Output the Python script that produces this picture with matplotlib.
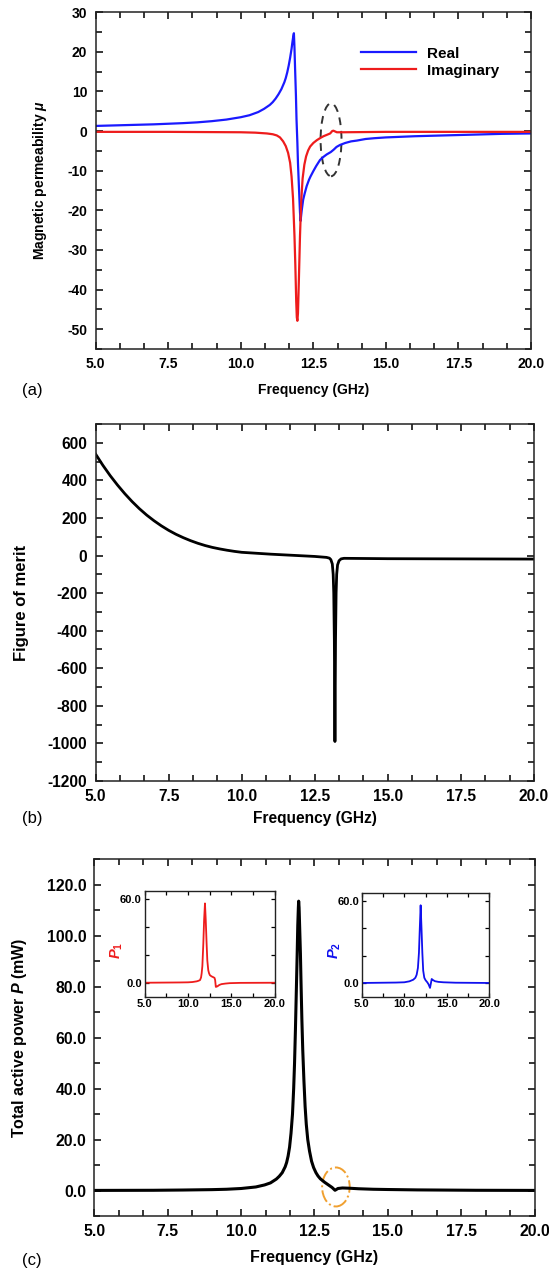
import numpy as np
import matplotlib
matplotlib.use("Agg")
import matplotlib.pyplot as plt
from matplotlib.ticker import MultipleLocator, AutoMinorLocator, FormatStrFormatter
from matplotlib.patches import Ellipse

plt.rcParams['font.family'] = ['Liberation Sans', 'DejaVu Sans']
plt.rcParams['font.weight'] = 'bold'
plt.rcParams['mathtext.fontset'] = 'custom'
plt.rcParams['mathtext.rm'] = 'Liberation Sans:bold'
plt.rcParams['mathtext.it'] = 'Liberation Sans:italic:bold'
plt.rcParams['mathtext.bf'] = 'Liberation Sans:bold'

# (a) permeabilidad magnetica
f_real = [5.0, 6.0, 7.0, 8.0, 8.5, 9.0, 9.5, 10.0, 10.3, 10.6, 10.8, 11.0, 11.1, 11.2,
          11.3, 11.4, 11.5, 11.55, 11.6, 11.65, 11.7, 11.75, 11.78, 11.81, 11.83, 11.85,
          11.87, 11.9, 11.92, 11.95, 11.97, 12.0, 12.02, 12.04, 12.06, 12.08, 12.1, 12.15,
          12.2, 12.27, 12.35, 12.4, 12.5, 12.6, 12.73, 12.85, 12.96, 13.1, 13.2, 13.3,
          13.42, 13.6, 13.8, 14.0, 14.3, 14.6, 15.0, 16.0, 17.5, 19.0, 20.0]
mu_real = [1.3, 1.5, 1.7, 2.0, 2.2, 2.5, 2.9, 3.5, 4.0, 4.8, 5.6, 6.6, 7.3, 8.2,
           9.3, 10.6, 12.3, 13.4, 14.8, 16.5, 18.5, 20.8, 22.5, 24.0, 24.7, 21.0,
           16.0, 9.0, 3.0, -3.0, -8.0, -13.5, -17.0, -20.5, -22.7, -21.3, -20.0, -17.3,
           -15.8, -13.9, -12.3, -11.5, -10.1, -8.8, -7.3, -6.5, -5.9, -5.3, -4.7, -4.0,
           -3.5, -3.0, -2.6, -2.4, -2.0, -1.8, -1.6, -1.3, -1.0, -0.7, -0.6]
f_imag = [5.0, 7.5, 10.0, 10.5, 10.9, 11.1, 11.24, 11.35, 11.46, 11.55, 11.63, 11.7,
          11.75, 11.8, 11.85, 11.88, 11.91, 11.93, 11.95, 11.97, 12.0, 12.04, 12.08,
          12.13, 12.19, 12.25, 12.32, 12.39, 12.5, 12.62, 12.75, 12.85, 12.95, 13.08,
          13.15, 13.19, 13.25, 13.31, 13.54, 15.0, 17.5, 20.0]
mu_imag = [-0.2, -0.2, -0.3, -0.4, -0.6, -0.8, -1.1, -1.6, -2.6, -3.8, -5.5, -8.0,
           -11.5, -17.0, -26.5, -34.0, -43.0, -47.0, -47.9, -46.0, -38.0, -26.5, -18.0,
           -12.0, -8.5, -6.4, -4.9, -3.9, -3.0, -2.3, -1.7, -1.3, -1.0, -0.6,
           0.0, 0.1, -0.1, -0.3, -0.3, -0.2, -0.2, -0.2]

# (b) figura de merito
f_fom = [5.0, 5.25, 5.5, 5.75, 6.0, 6.25, 6.5, 6.75, 7.0, 7.25, 7.5, 7.75, 8.0, 8.25,
         8.5, 8.75, 9.0, 9.25, 9.5, 9.75, 10.0, 10.5, 11.0, 11.5, 12.0, 12.5, 12.9,
         13.0, 13.05, 13.1, 13.13, 13.15, 13.17, 13.19, 13.21, 13.23, 13.25, 13.28,
         13.33, 13.4, 13.5, 15.0, 17.5, 20.0]
fom = [540, 480, 425, 375, 329, 287, 249, 215, 185, 158, 134, 113, 95, 79,
       65, 53, 43, 35, 28, 22, 17, 12, 7, 3, -1, -5, -10,
       -14, -22, -45, -100, -200, -450, -990, -450, -200, -100, -50,
       -28, -18, -15, -17, -18, -19]

# (c) potencia activa total y potencias de cada puerto
f_p = [5.0, 7.0, 8.0, 9.0, 9.5, 10.0, 10.5, 10.8, 11.0, 11.2, 11.3, 11.4, 11.5, 11.55,
       11.6, 11.65, 11.7, 11.75, 11.79, 11.82, 11.85, 11.88, 11.91, 11.93, 11.95, 11.96,
       11.975, 11.99, 12.02, 12.04, 12.07, 12.1, 12.14, 12.18, 12.22, 12.27, 12.33, 12.4,
       12.47, 12.55, 12.62, 12.7, 12.85, 13.0, 13.1, 13.2, 13.3, 13.45, 13.7, 14.0, 14.5,
       15.0, 16.0, 18.0, 20.0]
p_total = [0.05, 0.1, 0.2, 0.35, 0.5, 0.8, 1.4, 2.2, 3.0, 4.5, 5.6, 7.0, 9.3, 11.0,
           13.5, 17.0, 22.5, 30.0, 40.0, 50.0, 63.0, 78.0, 93.0, 104.0, 111.0, 113.5,
           111.0, 105.0, 93.0, 82.0, 67.0, 55.0, 43.0, 33.0, 26.0, 20.0, 15.5, 11.5,
           9.0, 7.0, 5.7, 4.6, 3.2, 2.0, 1.2, 0.1, 0.8, 1.0, 0.9, 0.7, 0.5,
           0.4, 0.25, 0.1, 0.05]
f_p1 = [5.0, 9.0, 10.0, 10.5, 11.0, 11.2, 11.38, 11.5, 11.57, 11.65, 11.76, 11.85, 11.95,
        12.04, 12.14, 12.22, 12.33, 12.42, 12.52, 12.7, 12.9, 13.05, 13.12, 13.2, 13.3,
        13.4, 13.6, 13.85, 14.3, 14.8, 16.0, 20.0]
p1 = [0.0, 0.2, 0.3, 0.5, 1.0, 1.4, 1.9, 3.8, 6.8, 12.0, 28.0, 45.0, 57.0,
      45.0, 28.0, 16.0, 9.0, 6.8, 5.4, 4.6, 4.0, 3.5, 2.0, -3.0, -2.8,
      -2.5, -1.6, -1.0, -0.6, -0.3, -0.1, 0.0]
f_p2 = [5.0, 9.0, 10.0, 10.6, 11.06, 11.3, 11.45, 11.6, 11.72, 11.82, 11.92, 12.02, 12.12,
        12.22, 12.35, 12.5, 12.7, 12.85, 13.02, 13.1, 13.22, 13.35, 13.6, 14.0, 14.6,
        16.0, 20.0]
p2 = [0.0, 0.3, 0.5, 1.2, 2.4, 3.8, 6.0, 11.0, 22.0, 40.0, 56.8, 40.0, 22.0,
      9.0, 3.8, 2.0, 0.5, -1.0, -3.6, -1.0, 2.9, 2.2, 1.3, 0.8, 0.5,
      0.2, 0.0]


def estilo(ax, ymaj, ymin, fmt_y, size):
    ax.set_xlim(5, 20)
    ax.xaxis.set_major_locator(MultipleLocator(2.5))
    ax.xaxis.set_minor_locator(AutoMinorLocator(3))
    ax.xaxis.set_major_formatter(FormatStrFormatter('%.1f'))
    ax.yaxis.set_major_locator(MultipleLocator(ymaj))
    ax.yaxis.set_minor_locator(MultipleLocator(ymin))
    ax.yaxis.set_major_formatter(FormatStrFormatter(fmt_y))
    ax.tick_params(which='both', direction='in', top=True, right=True, width=1.1,
                   labelsize=size, pad=6)
    ax.tick_params(which='major', length=5)
    ax.tick_params(which='minor', length=4)
    for s in ax.spines.values():
        s.set_linewidth(1.1)
        s.set_color('#222222')


fig = plt.figure(figsize=(5.49, 12.74), dpi=100)

# ---- (a)
ax1 = fig.add_axes([0.1743, 0.7261, 0.7929, 0.2643])
ax1.plot(f_real, mu_real, color='#1a1aff', lw=1.6, label='Real')
ax1.plot(f_imag, mu_imag, color='#ee1c1c', lw=1.6, label='Imaginary')
ax1.add_patch(Ellipse((13.11, -2.2), 0.72, 18.4, fill=False, ls=(0, (4, 3)),
                      lw=1.4, color='#333333'))
ax1.set_ylim(-55, 30)
estilo(ax1, 10, 5, '%d', 10)
ax1.set_xlabel('Frequency (GHz)', fontsize=10, fontweight='bold')
ax1.set_ylabel(r'Magnetic permeability $\mu$', fontsize=10, fontweight='bold')
ax1.yaxis.set_label_coords(-0.107, 0.5)
ax1.xaxis.set_label_coords(0.5, -0.101)
ax1.legend(loc='upper left', bbox_to_anchor=(0.596, 0.916), frameon=False,
           handlelength=3.6, handletextpad=0.7, fontsize=11, borderaxespad=0,
           labelspacing=0.2)

# ---- (b)
ax2 = fig.add_axes([0.1741, 0.387, 0.7985, 0.2802])
ax2.plot(f_fom, fom, color='black', lw=2.0)
ax2.set_ylim(-1200, 700)
estilo(ax2, 200, 100, '%d', 11.2)
ax2.set_xlabel('Frequency (GHz)', fontsize=11.2, fontweight='bold')
ax2.set_ylabel('Figure of merit', fontsize=12, fontweight='bold')
ax2.yaxis.set_label_coords(-0.152, 0.5)
ax2.xaxis.set_label_coords(0.5, -0.084)

# ---- (c)
ax3 = fig.add_axes([0.1721, 0.0455, 0.8015, 0.2802])
ax3.plot(f_p, p_total, color='black', lw=2.2)
ax3.add_patch(Ellipse((13.23, 1.4), 0.94, 15.3, fill=False, ls='-.',
                      lw=1.4, color='#f0a030'))
ax3.set_ylim(-10, 130)
estilo(ax3, 20, 10, '%.1f', 11.3)
ax3.set_xlabel('Frequency (GHz)', fontsize=11.5, fontweight='bold')
ax3.set_ylabel('Total active power $P$ (mW)', fontsize=11.5, fontweight='bold')
ax3.yaxis.set_label_coords(-0.148, 0.5)
ax3.xaxis.set_label_coords(0.5, -0.095)

# insets
for pos, fx, py, col, lab in [([0.2634, 0.2177, 0.2373, 0.083], f_p1, p1, '#ee1c1c', '$P_1$'),
                               ([0.6588, 0.2177, 0.2328, 0.0816], f_p2, p2, '#1010ee', '$P_2$')]:
    ins = fig.add_axes(pos)
    ins.plot(fx, py, color=col, lw=1.3)
    ins.set_xlim(5, 20)
    ins.set_ylim(-10, 66)
    ins.xaxis.set_major_locator(MultipleLocator(5))
    ins.xaxis.set_minor_locator(MultipleLocator(2.5))
    ins.xaxis.set_major_formatter(FormatStrFormatter('%.1f'))
    ins.set_yticks([0, 20, 40, 60])
    ins.set_yticklabels(['0.0', '', '', '60.0'])
    ins.tick_params(which='both', direction='in', top=True, right=True, width=0.9,
                    labelsize=8, pad=2)
    ins.tick_params(which='major', length=3)
    ins.tick_params(which='minor', length=3)
    for s in ins.spines.values():
        s.set_linewidth(1.0)
        s.set_color('#222222')
    ins.set_ylabel(lab, color=col, fontsize=10.5)
    ins.yaxis.set_label_coords(-0.15, 0.44)

fig.text(22 / 549, 1 - 390 / 1274, '(a)', fontsize=12, fontweight='normal', va='center')
fig.text(22 / 549, 1 - 818 / 1274, '(b)', fontsize=12, fontweight='normal', va='center')
fig.text(22 / 549, 1 - 1260 / 1274, '(c)', fontsize=12, fontweight='normal', va='center')

fig.savefig('out.png', dpi=100)
